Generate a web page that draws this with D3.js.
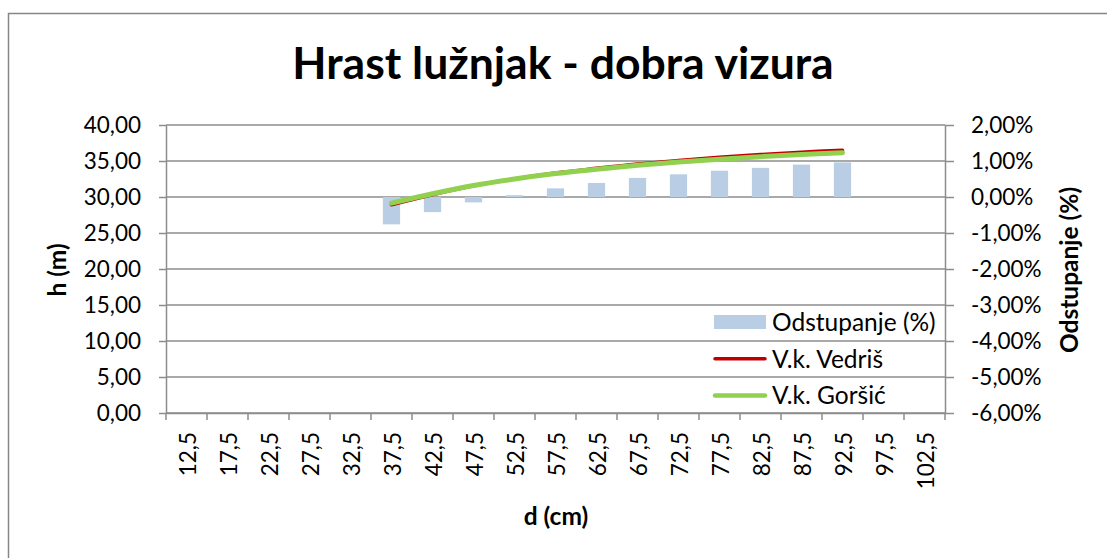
<!DOCTYPE html>
<html>
<head>
<meta charset="utf-8">
<script src="https://cdn.jsdelivr.net/npm/d3@7"></script>
<style>
  body { margin: 0; background: #fff; }
  svg { display: block; font-family: Lato, "Open Sans", sans-serif; }
</style>
</head>
<body>
<svg id="chart"></svg>
<script>
// categories on the x axis (d, cm)
const categories = ["12,5", "17,5", "22,5", "27,5", "32,5", "37,5", "42,5", "47,5", "52,5", "57,5",
  "62,5", "67,5", "72,5", "77,5", "82,5", "87,5", "92,5", "97,5", "102,5"];

// measured categories
const seriesCats = ["37,5", "42,5", "47,5", "52,5", "57,5", "62,5", "67,5", "72,5", "77,5", "82,5", "87,5", "92,5"];
const odstupanje = [-0.0076, -0.0042, -0.0015, 0.0005, 0.0024, 0.0039, 0.0053, 0.0063, 0.0073, 0.0081, 0.0090, 0.0096];
const vedris = [28.93, 30.32, 31.55, 32.52, 33.33, 33.98, 34.58, 35.07, 35.51, 35.89, 36.22, 36.50];
const gorsic = [29.15, 30.45, 31.60, 32.50, 33.25, 33.85, 34.40, 34.85, 35.25, 35.60, 35.90, 36.15];

const leftTicks = [0, 5, 10, 15, 20, 25, 30, 35, 40];
const rightTicks = [-0.06, -0.05, -0.04, -0.03, -0.02, -0.01, 0, 0.01, 0.02];

const width = 1107;
const height = 558;
const plot = { left: 166, right: 945, top: 125, bottom: 413 };

const locale = d3.formatLocale({ decimal: ",", thousands: ".", grouping: [3], currency: ["", ""], minus: "-", percent: "%" });
const fmtLeft = locale.format(".2f");
const fmtRight = locale.format(".2%");

const svg = d3.select("#chart")
  .attr("width", width)
  .attr("height", height);

// outer chart border
svg.append("rect")
  .attr("x", 8.5).attr("y", 13.5)
  .attr("width", width).attr("height", height)
  .attr("fill", "none")
  .attr("stroke", "#868686")
  .attr("stroke-width", 1.5);

// scales
const x = d3.scaleBand()
  .domain(categories)
  .range([plot.left, plot.right])
  .padding(0);

const yLeft = d3.scaleLinear().domain([0, 40]).range([plot.bottom, plot.top]);
const yRight = d3.scaleLinear().domain([-0.06, 0.02]).range([plot.bottom, plot.top]);

const barW = x.bandwidth() * 0.42;

// gridlines
svg.append("g")
  .selectAll("line")
  .data(leftTicks)
  .enter().append("line")
  .attr("x1", plot.left).attr("x2", plot.right)
  .attr("y1", d => yLeft(d)).attr("y2", d => yLeft(d))
  .attr("stroke", "#8c8c8c")
  .attr("stroke-width", 1.5);

// left axis
const gLeft = svg.append("g")
  .attr("transform", "translate(" + plot.left + ",0)")
  .call(d3.axisLeft(yLeft).tickValues(leftTicks).tickFormat(fmtLeft).tickSize(7).tickSizeOuter(0).tickPadding(18));

// right axis
const gRight = svg.append("g")
  .attr("transform", "translate(" + plot.right + ",0)")
  .call(d3.axisRight(yRight).tickValues(rightTicks).tickFormat(fmtRight).tickSize(9).tickSizeOuter(0).tickPadding(17));

// bottom axis (labels at band centres, ticks at band edges)
const gBottom = svg.append("g")
  .attr("transform", "translate(0," + plot.bottom + ")")
  .call(d3.axisBottom(x).tickSize(0).tickSizeOuter(0));

gBottom.selectAll(".tick text")
  .attr("transform", "rotate(-90)")
  .attr("text-anchor", "end")
  .attr("x", -19)
  .attr("y", 0)
  .attr("dy", "0.4em")
  .attr("dx", 0);

gBottom.selectAll(".edge")
  .data(categories.concat(["end"]))
  .enter().append("line")
  .attr("class", "edge")
  .attr("x1", (d, i) => plot.left + i * x.step())
  .attr("x2", (d, i) => plot.left + i * x.step())
  .attr("y1", 0).attr("y2", 7)
  .attr("stroke", "#8c8c8c")
  .attr("stroke-width", 1.5);

[gLeft, gRight, gBottom].forEach(g => {
  g.selectAll("path.domain").attr("stroke", "#8c8c8c").attr("stroke-width", 1.5);
  g.selectAll(".tick line").attr("stroke", "#8c8c8c").attr("stroke-width", 1.5);
  g.selectAll(".tick text")
    .attr("fill", "#000")
    .style("font-size", "22.5px")
    .style("font-family", "Lato, sans-serif");
});

// bars: Odstupanje (%)
svg.append("g")
  .selectAll("rect")
  .data(seriesCats)
  .enter().append("rect")
  .attr("x", d => x(d) + (x.bandwidth() - barW) / 2)
  .attr("y", (d, i) => Math.min(yRight(odstupanje[i]), yRight(0)))
  .attr("width", barW)
  .attr("height", (d, i) => Math.abs(yRight(odstupanje[i]) - yRight(0)))
  .attr("fill", "#B9CDE5");

// lines
const line = d3.line()
  .x(d => x(d[0]) + x.bandwidth() / 2)
  .y(d => yLeft(d[1]))
  .curve(d3.curveCatmullRom);

svg.append("path")
  .datum(seriesCats.map((c, i) => [c, vedris[i]]))
  .attr("d", line)
  .attr("fill", "none")
  .attr("stroke", "#C00000")
  .attr("stroke-width", 3.5)
  .attr("stroke-linecap", "round");

svg.append("path")
  .datum(seriesCats.map((c, i) => [c, gorsic[i]]))
  .attr("d", line)
  .attr("fill", "none")
  .attr("stroke", "#92D050")
  .attr("stroke-width", 5)
  .attr("stroke-linecap", "round");

// title
svg.append("text")
  .attr("x", 563)
  .attr("y", 79)
  .attr("text-anchor", "middle")
  .style("font-size", "44.5px")
  .style("font-weight", "bold")
  .text("Hrast lužnjak - dobra vizura");

// axis titles
svg.append("text")
  .attr("transform", "translate(66,270) rotate(-90)")
  .attr("text-anchor", "middle")
  .style("font-size", "24.5px")
  .style("font-weight", "bold")
  .text("h (m)");

svg.append("text")
  .attr("transform", "translate(1078,270) rotate(-90)")
  .attr("text-anchor", "middle")
  .style("font-size", "24.5px")
  .style("font-weight", "bold")
  .text("Odstupanje (%)");

svg.append("text")
  .attr("x", 556)
  .attr("y", 525)
  .attr("text-anchor", "middle")
  .style("font-size", "24.5px")
  .style("font-weight", "bold")
  .text("d (cm)");

// legend
const legendItems = [
  { name: "Odstupanje (%)", type: "bar", color: "#B9CDE5" },
  { name: "V.k. Vedriš", type: "line", color: "#C00000", w: 3.5 },
  { name: "V.k. Goršić", type: "line", color: "#92D050", w: 4.5 }
];

const legend = svg.append("g").attr("transform", "translate(714,322)");
const li = legend.selectAll("g")
  .data(legendItems)
  .enter().append("g")
  .attr("transform", (d, i) => "translate(0," + i * 36.7 + ")");

li.filter(d => d.type === "bar").append("rect")
  .attr("x", 0).attr("y", -7)
  .attr("width", 52).attr("height", 14)
  .attr("fill", d => d.color);

li.filter(d => d.type === "line").append("line")
  .attr("x1", 1).attr("x2", 51)
  .attr("y1", 0).attr("y2", 0)
  .attr("stroke", d => d.color)
  .attr("stroke-width", d => d.w)
  .attr("stroke-linecap", "round");

li.append("text")
  .attr("x", 58)
  .attr("y", 0)
  .attr("dy", "0.36em")
  .style("font-size", "24.5px")
  .text(d => d.name);
</script>
</body>
</html>
